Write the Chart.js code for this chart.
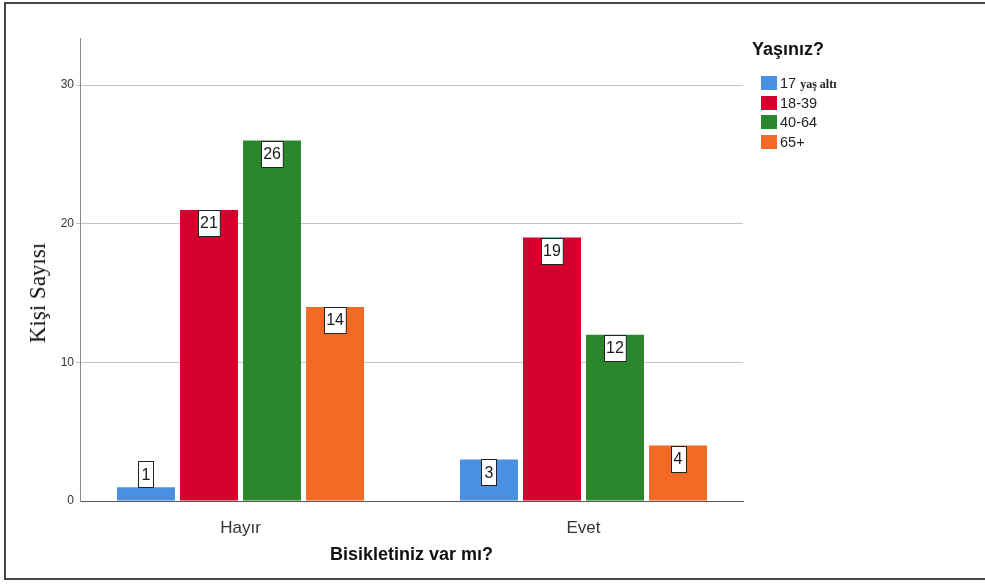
<!DOCTYPE html>
<html>
<head>
<meta charset="utf-8">
<script src="https://cdn.jsdelivr.net/npm/chart.js@4"></script>
<style>
  html, body { margin: 0; padding: 0; background: #fff; }
  #wrap { position: relative; width: 985px; height: 584px; overflow: hidden; font-family: "Liberation Sans", Arial, sans-serif; }
  #frame { position: absolute; left: 4px; top: 2px; width: 1000px; height: 578px; border: 2px solid #444; box-sizing: border-box; }
  #chart { position: absolute; left: 0; top: 0; }
  #ytitle { position: absolute; left: 38px; top: 293px; transform: translate(-50%, -50%) rotate(-90deg);
            font-family: "Liberation Serif", "Times New Roman", serif; font-size: 23px; color: #111; white-space: nowrap; }
  #legend { position: absolute; left: 752px; top: 38px; }
  #legend .title { font-weight: bold; font-size: 18px; line-height: 22px; color: #111; margin-bottom: 16px; }
  #legend .item { position: relative; height: 19.5px; padding-left: 28px; font-size: 14.5px; color: #222; line-height: 15px; }
  #legend .box { position: absolute; left: 9px; top: 0; width: 16px; height: 14px; }
  #legend .serif { font-family: "Liberation Serif", "Times New Roman", serif; font-size: 12px; font-weight: bold; }
</style>
</head>
<body>
<div id="wrap">
  <div id="frame"></div>
  <canvas id="chart" width="985" height="584"></canvas>
  <div id="ytitle">Kişi Sayısı</div>
  <div id="legend"></div>
</div>
<script>
// Bisiklet sahipliği, yaş grubuna göre
const categories = ['Hayır', 'Evet'];
const ageGroups = ['17 yaş altı', '18-39', '40-64', '65+'];
const under17 = [1, 3];
const age18to39 = [21, 19];
const age40to64 = [26, 12];
const age65plus = [14, 4];
const barColors = ['#4a8fe2', '#d5002e', '#2a872c', '#f26a24'];
const yTicks = [0, 10, 20, 30];

const seriesValues = [under17, age18to39, age40to64, age65plus];

// legend (html, so the "yaş altı" part can use its own font)
const legend = document.getElementById('legend');
let html = '<div class="title">Yaşınız?</div>';
ageGroups.forEach((g, i) => {
  let label = g;
  if (g.indexOf(' ') > 0) {
    const parts = g.split(' ');
    label = parts[0] + ' <span class="serif">' + parts.slice(1).join(' ') + '</span>';
  }
  html += '<div class="item"><span class="box" style="background:' + barColors[i] + '"></span>' + label + '</div>';
});
legend.innerHTML = html;

// white boxed value labels on top of the bars
const valueBoxes = {
  id: 'valueBoxes',
  afterDatasetsDraw(chart) {
    const ctx = chart.ctx;
    ctx.save();
    ctx.font = '16px "Liberation Sans", Arial, sans-serif';
    ctx.textAlign = 'center';
    ctx.textBaseline = 'middle';
    chart.data.datasets.forEach((ds, di) => {
      const meta = chart.getDatasetMeta(di);
      meta.data.forEach((bar, i) => {
        const text = String(ds.data[i]);
        const w = Math.max(ctx.measureText(text).width + 4, 15);
        const h = 26;
        const top = (bar.base - bar.y) >= h ? bar.y : bar.y - h;
        const left = Math.round(bar.x - w / 2) + 0.5;
        ctx.fillStyle = '#fff';
        ctx.fillRect(left, Math.round(top) + 0.5, w, h);
        ctx.strokeStyle = '#222';
        ctx.lineWidth = 1;
        ctx.strokeRect(left, Math.round(top) + 0.5, w, h);
        ctx.fillStyle = '#1a1a1a';
        ctx.fillText(text, bar.x, top + h / 2 + 1);
      });
    });
    ctx.restore();
  }
};

new Chart(document.getElementById('chart'), {
  type: 'bar',
  data: {
    labels: categories,
    datasets: ageGroups.map((g, i) => ({
      label: g,
      data: seriesValues[i],
      backgroundColor: barColors[i],
      categoryPercentage: 0.735,
      barPercentage: 0.92
    }))
  },
  options: {
    responsive: false,
    animation: false,
    devicePixelRatio: 1,
    layout: { padding: { top: 38, right: 242, left: 0, bottom: 0 } },
    plugins: {
      legend: { display: false },
      tooltip: { enabled: false }
    },
    scales: {
      x: {
        afterFit(s) { s.height = 83; },
        // groups sit a little wider apart than plain half-slots
        afterBuildTicks(s) { s._startValue = -0.468; s._valueRange = 1.933; },
        grid: { display: false },
        border: { display: true, color: '#555', width: 1 },
        ticks: {
          padding: 9,
          color: '#333',
          font: { family: '"Liberation Sans", Arial, sans-serif', size: 17 }
        },
        title: {
          display: true,
          text: 'Bisikletiniz var mı?',
          color: '#111',
          padding: { top: 0, bottom: 18 },
          font: { family: '"Liberation Sans", Arial, sans-serif', size: 18, weight: 'bold' }
        }
      },
      y: {
        min: 0,
        max: 33.4,
        afterFit(s) { s.width = 80; },
        afterBuildTicks(s) { s.ticks = yTicks.map(v => ({ value: v })); },
        grid: {
          color: ctx => ctx.tick && ctx.tick.value === 0 ? 'rgba(0,0,0,0)' : '#c4c4c4',
          tickLength: 4
        },
        border: { display: true, color: '#8a8a8a', width: 1 },
        ticks: {
          padding: 2,
          color: '#333',
          font: { family: '"Liberation Sans", Arial, sans-serif', size: 12 }
        }
      }
    }
  },
  plugins: [valueBoxes]
});
</script>
</body>
</html>
